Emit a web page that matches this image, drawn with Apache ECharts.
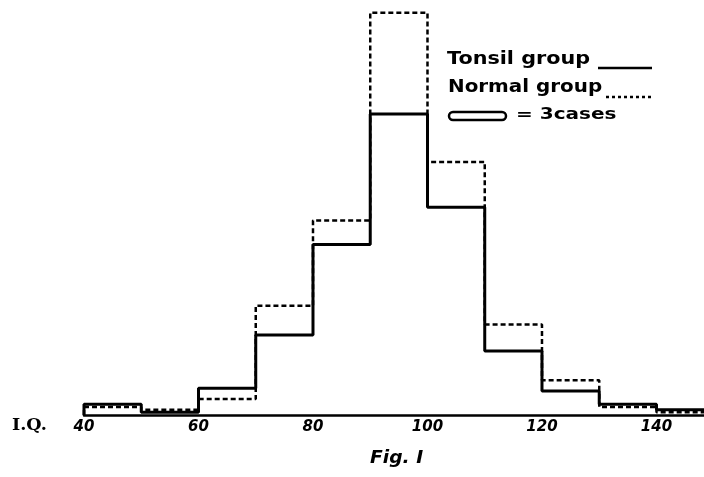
<!DOCTYPE html>
<html>
<head>
<meta charset="utf-8">
<script src="https://cdn.jsdelivr.net/npm/echarts@6/dist/echarts.min.js"></script>
<style>
html,body{margin:0;padding:0;background:#fff;}
#chart{width:704px;height:477px;}
</style>
</head>
<body>
<div id="chart"></div>
<script>
// Bin edges (I.Q.)
const binEdges = [40, 50, 60, 70, 80, 90, 100, 110, 120, 130, 140, 150];
// Counts per bin (legend: rectangle = 3 cases)
const tonsilGroup = [4, 1, 10, 30, 64, 113, 78, 24, 9, 4, 2];
const normalGroup = [3, 2, 6, 41, 73, 151, 95, 34, 13, 3, 1];
const tickLabels = [40, 60, 80, 100, 120, 140];

function stepPoints(vals) {
  const pts = [[binEdges[0], 0]];
  for (let i = 0; i < vals.length; i++) {
    pts.push([binEdges[i], vals[i]]);
    pts.push([binEdges[i + 1], vals[i]]);
  }
  pts.push([binEdges[binEdges.length - 1], 0]);
  return pts;
}

const chart = echarts.init(document.getElementById('chart'));
const hand = '"DejaVu Sans", sans-serif';

chart.setOption({
  backgroundColor: '#fff',
  animation: false,
  grid: { left: 84, right: 0, top: 10, bottom: 62 },
  xAxis: {
    type: 'value',
    min: 40,
    max: 148.3,
    interval: 20,
    splitLine: { show: false },
    axisTick: { show: false },
    axisLine: { lineStyle: { color: '#000', width: 2.5 } },
    axisLabel: {
      color: '#000',
      fontFamily: hand,
      fontWeight: 'bold',
      fontStyle: 'italic',
      fontSize: 15,
      margin: 5,
      showMaxLabel: false,
      formatter: function (v) { return tickLabels.indexOf(v) >= 0 ? String(v) : ''; }
    }
  },
  yAxis: {
    type: 'value',
    min: 0,
    max: 152,
    show: false
  },
  series: [
    {
      name: 'Normal group',
      type: 'line',
      data: stepPoints(normalGroup),
      symbol: 'none',
      z: 2,
      lineStyle: { color: '#000', width: 2.5, type: [5, 3] }
    },
    {
      name: 'Tonsil group',
      type: 'line',
      data: stepPoints(tonsilGroup),
      symbol: 'none',
      z: 3,
      lineStyle: { color: '#000', width: 3 }
    }
  ],
  graphic: [
    { type: 'text', left: 12, top: 418, scaleX: 1.1,
      style: { text: 'I.Q.', fill: '#000', font: 'bold 16px "DejaVu Serif", serif' } },
    { type: 'text', left: 370, top: 450, scaleX: 1.1,
      style: { text: 'Fig. I', fill: '#000', font: 'italic bold 17px ' + hand } },
    { type: 'text', left: 447, top: 51, scaleX: 1.22,
      style: { text: 'Tonsil group', fill: '#000', font: 'bold 17px ' + hand } },
    { type: 'line', shape: { x1: 598, y1: 68, x2: 652, y2: 68 },
      style: { stroke: '#000', lineWidth: 2.5 } },
    { type: 'text', left: 448, top: 79, scaleX: 1.17,
      style: { text: 'Normal group', fill: '#000', font: 'bold 17px ' + hand } },
    { type: 'line', shape: { x1: 606, y1: 97, x2: 652, y2: 97 },
      style: { stroke: '#000', lineWidth: 2.5, lineDash: [3, 3] } },
    { type: 'rect', shape: { x: 449, y: 112, width: 57, height: 8, r: 4 },
      style: { stroke: '#000', fill: '#fff', lineWidth: 2.5 } },
    { type: 'text', left: 516, top: 107, scaleX: 1.25,
      style: { text: '= 3cases', fill: '#000', font: 'bold 16px ' + hand } }
  ]
});
</script>
</body>
</html>
